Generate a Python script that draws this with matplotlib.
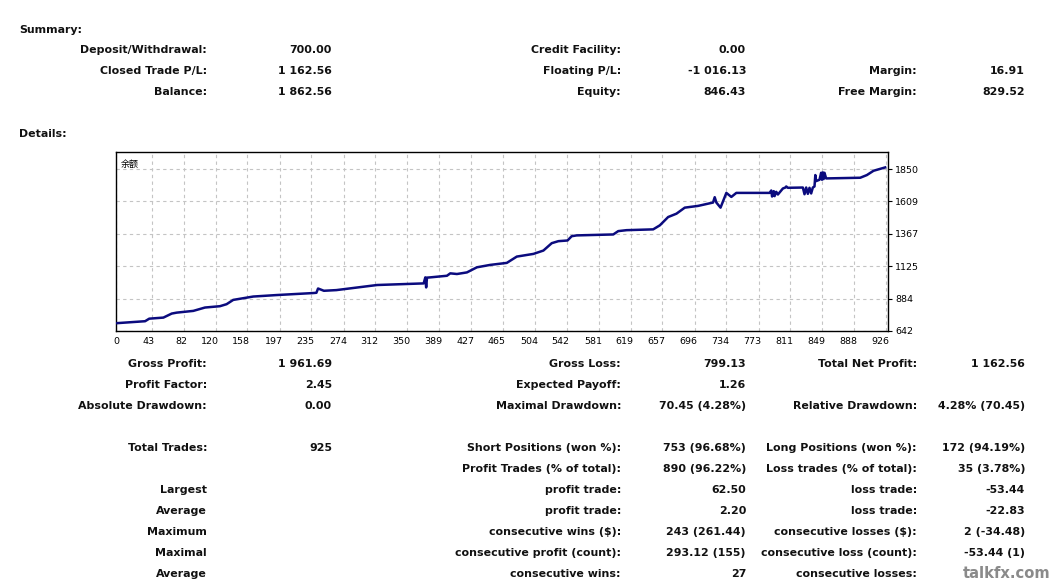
import numpy as np
import matplotlib
matplotlib.use("Agg")
import matplotlib.pyplot as plt
from matplotlib.transforms import ScaledTranslation

# balance curve
trade_no = [0, 35, 40, 57, 67, 73, 93, 107, 125, 133, 141, 165, 193, 237, 241,
            243, 250, 265, 314, 370, 372, 373, 374, 378, 398, 402, 410, 422,
            434, 450, 470, 482, 490, 502, 514, 524, 532, 543, 548, 554, 598,
            604, 614, 646, 654, 664, 674, 684, 700, 718, 720, 722, 727, 734,
            740, 746, 786, 788, 789, 791, 792, 794, 796, 802, 805, 806, 808,
            826, 828, 830, 832, 834, 836, 838, 840, 841, 842, 846, 848, 849,
            850, 851, 852, 854, 895, 903, 911, 925]
balance = [700, 715, 734, 742, 772, 779, 792, 817, 827, 842, 874, 899, 910,
           925, 927, 959, 942, 947, 985, 997, 1042, 967, 1040, 1042, 1054,
           1072, 1067, 1079, 1117, 1135, 1150, 1197, 1205, 1217, 1242, 1297,
           1312, 1317, 1349, 1355, 1362, 1387, 1394, 1400, 1430, 1492, 1517,
           1562, 1575, 1600, 1640, 1600, 1562, 1672, 1642, 1672, 1672, 1690,
           1645, 1685, 1648, 1680, 1660, 1705, 1712, 1720, 1710, 1712, 1662,
           1712, 1665, 1710, 1668, 1712, 1720, 1805, 1760, 1770, 1822, 1770,
           1825, 1775, 1822, 1780, 1785, 1805, 1837, 1862]

x_ticks = [0, 43, 82, 120, 158, 197, 235, 274, 312, 350, 389, 427, 465, 504,
           542, 581, 619, 657, 696, 734, 773, 811, 849, 888, 926]
y_ticks = [642, 884, 1125, 1367, 1609, 1850]

# summary block: (label, value) per column, per row
summary_rows = [
    [("Deposit/Withdrawal:", "700.00"), ("Credit Facility:", "0.00"), ("", "")],
    [("Closed Trade P/L:", "1 162.56"), ("Floating P/L:", "-1 016.13"), ("Margin:", "16.91")],
    [("Balance:", "1 862.56"), ("Equity:", "846.43"), ("Free Margin:", "829.52")],
]

details_rows = [
    [("Gross Profit:", "1 961.69"), ("Gross Loss:", "799.13"), ("Total Net Profit:", "1 162.56")],
    [("Profit Factor:", "2.45"), ("Expected Payoff:", "1.26"), ("", "")],
    [("Absolute Drawdown:", "0.00"), ("Maximal Drawdown:", "70.45 (4.28%)"), ("Relative Drawdown:", "4.28% (70.45)")],
    None,
    [("Total Trades:", "925"), ("Short Positions (won %):", "753 (96.68%)"), ("Long Positions (won %):", "172 (94.19%)")],
    [("", ""), ("Profit Trades (% of total):", "890 (96.22%)"), ("Loss trades (% of total):", "35 (3.78%)")],
    [("Largest", ""), ("profit trade:", "62.50"), ("loss trade:", "-53.44")],
    [("Average", ""), ("profit trade:", "2.20"), ("loss trade:", "-22.83")],
    [("Maximum", ""), ("consecutive wins ($):", "243 (261.44)"), ("consecutive losses ($):", "2 (-34.48)")],
    [("Maximal", ""), ("consecutive profit (count):", "293.12 (155)"), ("consecutive loss (count):", "-53.44 (1)")],
    [("Average", ""), ("consecutive wins:", "27"), ("consecutive losses:", "")],
]

W, H = 1057, 586
fig = plt.figure(figsize=(W / 100, H / 100), dpi=100)
fig.patch.set_facecolor("white")

FONT = "DejaVu Sans"
FS = 7.9

def put(x, y, s, ha="right", **kw):
    fig.text(x / W, 1 - y / H, s, ha=ha, va="center", fontsize=FS,
             fontweight="bold", family=FONT, color="#111111", **kw)

# column anchors (pixels)
label_x = [207, 621, 917]
value_x = [332, 746, 1025]

put(19, 30, "Summary:", ha="left")
for i, row in enumerate(summary_rows):
    y = 50 + i * 21
    for c, (lab, val) in enumerate(row):
        if lab:
            put(label_x[c], y, lab)
        if val:
            put(value_x[c], y, val)

put(19, 134, "Details:", ha="left")
for i, row in enumerate(details_rows):
    if row is None:
        continue
    y = 364 + i * 21
    for c, (lab, val) in enumerate(row):
        if lab:
            put(label_x[c], y, lab)
        if val:
            put(value_x[c], y, val)

# watermark
fig.text(1050 / W, 1 - 574 / H, "talkfx.com", ha="right", va="center",
         fontsize=10.6, fontweight="bold", color="#8a8a8a", family=FONT)

# chart
ax = fig.add_axes([116 / W, 1 - 331 / H, 772 / W, 179 / H])
ax.plot(trade_no, balance, color="#0b0b7e", linewidth=1.8, zorder=3)
ax.set_xlim(0, 928.4)
ax.set_ylim(642, 1977)
ax.set_xticks(x_ticks)
ax.set_xticklabels([str(t) for t in x_ticks], fontsize=6.8, family=FONT)
ax.set_yticks(y_ticks)
ax.set_yticklabels([str(t) for t in y_ticks], fontsize=6.8, family=FONT)
ax.yaxis.tick_right()
ax.tick_params(axis="x", length=0, pad=4)
ax.tick_params(axis="y", length=3, width=0.8, pad=2, direction="out")
for lbl in ax.get_xticklabels():
    lbl.set_horizontalalignment("right")
    lbl.set_transform(lbl.get_transform() + ScaledTranslation(3 / 100, 0, fig.dpi_scale_trans))
ax.grid(True, color="#c4c4c4", linestyle=(0, (3, 3)), linewidth=0.8)
for sp in ax.spines.values():
    sp.set_color("black")
    sp.set_linewidth(1.0)
ax.text(0.006, 0.955, "余额", transform=ax.transAxes, ha="left", va="top",
        fontsize=6.5, family=["Noto Sans CJK SC", "DejaVu Sans"])

fig.savefig("out.png", dpi=100, facecolor="white")
